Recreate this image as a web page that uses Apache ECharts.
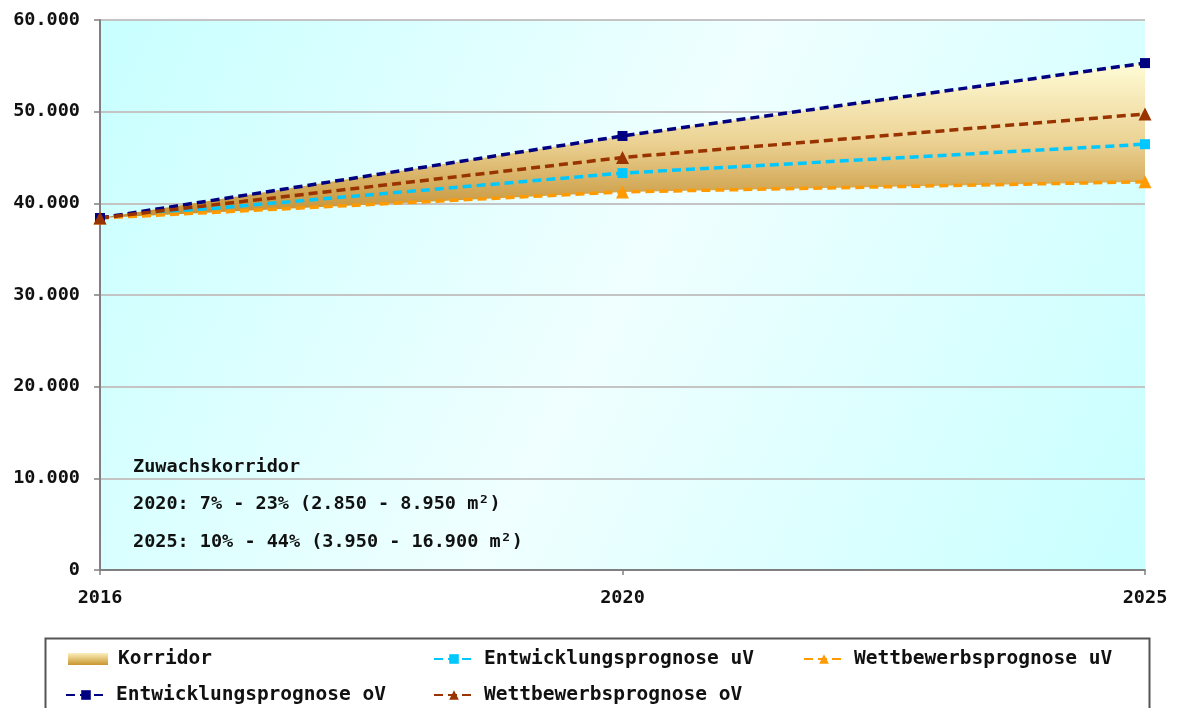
<!DOCTYPE html>
<html>
<head>
<meta charset="utf-8">
<script src="https://cdn.jsdelivr.net/npm/echarts@6/dist/echarts.min.js"></script>
<style>html,body{margin:0;padding:0;background:#fff}#c{width:1177px;height:708px}</style>
</head>
<body>
<div id="c"></div>
<script>
const years = ['2016', '2020', '2025'];
const entwicklungUV = [38400, 43300, 46450];
const wettbewerbUV = [38400, 41250, 42350];
const entwicklungOV = [38400, 47350, 55300];
const wettbewerbOV = [38400, 45000, 49750];
const yTicks = [0, 10000, 20000, 30000, 40000, 50000, 60000];
const noteLines = ['Zuwachskorridor', '2020: 7% - 23% (2.850 - 8.950 m²)', '2025: 10% - 44% (3.950 - 16.900 m²)'];

const FONT = "'DejaVu Sans Mono', monospace";
const corridor = entwicklungOV.map((v, i) => v - wettbewerbUV[i]);

function fmt(v) {
  return String(v).replace(/\B(?=(\d{3})+(?!\d))/g, '.');
}
const corrGrad = new echarts.graphic.LinearGradient(0, 0, 0, 1, [
  { offset: 0, color: '#fffcd6' },
  { offset: 0.5, color: '#ecd395' },
  { offset: 1, color: '#c38f32' }
]);
const legGrad = new echarts.graphic.LinearGradient(0, 0, 0, 1, [
  { offset: 0, color: '#fbf0bc' },
  { offset: 1, color: '#c8962e' }
]);
const bgGrad = new echarts.graphic.LinearGradient(0, 0, 1, 1, [
  { offset: 0, color: '#c8ffff' },
  { offset: 0.5, color: '#f0ffff' },
  { offset: 1, color: '#c8ffff' }
]);

function lineSeries(name, data, color, symbol, size) {
  return {
    name, type: 'line', data, symbol, symbolSize: size, z: 5,
    itemStyle: { color },
    lineStyle: { color, width: 3.5, type: [9, 5] },
    emphasis: { disabled: true }
  };
}
const legText = { fontFamily: FONT, fontWeight: 'bold', fontSize: 19.5, color: '#111', padding: [0, 0, 0, 5] };
function leg(name, left, top, extra) {
  const item = Object.assign({ name }, extra || {});
  return {
    data: [item], left, top, itemWidth: 40, itemHeight: 12, padding: 0,
    textStyle: legText, selectedMode: false
  };
}

const chart = echarts.init(document.getElementById('c'));
chart.setOption({
  animation: false,
  grid: { left: 100, right: 32, top: 20, bottom: 138, show: true, backgroundColor: bgGrad, borderWidth: 0 },
  xAxis: {
    type: 'category', data: years, boundaryGap: false,
    axisLine: { lineStyle: { color: '#808080', width: 2 } },
    axisTick: { show: true, length: 5, lineStyle: { color: '#808080', width: 1.5 } },
    axisLabel: { margin: 19, fontFamily: FONT, fontWeight: 'bold', fontSize: 18.5, color: '#111' },
    splitLine: { show: false }
  },
  yAxis: {
    type: 'value', min: yTicks[0], max: yTicks[yTicks.length - 1], interval: 10000,
    axisLine: { show: true, lineStyle: { color: '#808080', width: 2 } },
    axisTick: { show: true, length: 6, lineStyle: { color: '#808080', width: 1.5 } },
    axisLabel: { margin: 20, fontFamily: FONT, fontWeight: 'bold', fontSize: 18.5, color: '#111', formatter: fmt },
    splitLine: { lineStyle: { color: '#c4c4c4', width: 2 } }
  },
  legend: [
    leg('Korridor', 68, 649, { icon: 'rect', itemStyle: { color: legGrad } }),
    leg('Entwicklungsprognose uV', 433, 649),
    leg('Wettbewerbsprognose uV', 803, 649),
    leg('Entwicklungsprognose oV', 65, 685),
    leg('Wettbewerbsprognose oV', 433, 685)
  ],
  graphic: [
    { type: 'rect', left: 43, top: 636, shape: { width: 1104, height: 90 }, style: { fill: 'none', stroke: '#555', lineWidth: 2 }, silent: true },
    ...noteLines.map((t, i) => ({
      type: 'text', left: 133, top: [458, 495, 533][i],
      style: { text: t, font: "bold 18.5px " + FONT, fill: '#111' }, silent: true
    }))
  ],
  series: [
    { name: 'base', type: 'line', stack: 'k', data: wettbewerbUV, symbol: 'none', lineStyle: { width: 0, opacity: 0 }, z: 2, silent: true },
    { name: 'Korridor', type: 'line', stack: 'k', data: corridor, symbol: 'none', lineStyle: { width: 0, opacity: 0 },
      areaStyle: { color: corrGrad, opacity: 1 }, itemStyle: { color: '#d4a850' }, z: 2, silent: true },
    lineSeries('Entwicklungsprognose uV', entwicklungUV, '#00c8ff', 'rect', 10),
    lineSeries('Wettbewerbsprognose uV', wettbewerbUV, '#ff9a00', 'triangle', 13),
    lineSeries('Entwicklungsprognose oV', entwicklungOV, '#000080', 'rect', 10),
    lineSeries('Wettbewerbsprognose oV', wettbewerbOV, '#993300', 'triangle', 13)
  ]
});
</script>
</body>
</html>
